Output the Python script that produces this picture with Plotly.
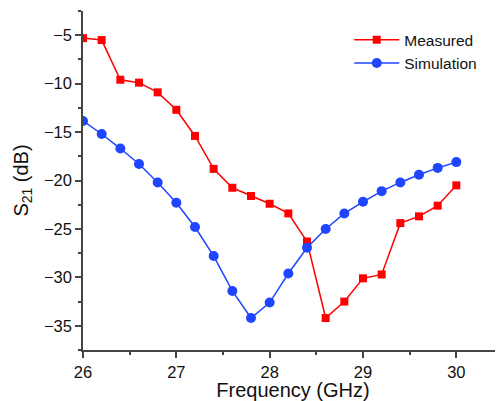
import plotly.graph_objects as go

freq = [26.0, 26.2, 26.4, 26.6, 26.8, 27.0, 27.2, 27.4, 27.6, 27.8, 28.0,
        28.2, 28.4, 28.6, 28.8, 29.0, 29.2, 29.4, 29.6, 29.8, 30.0]
measured = [-5.3, -5.5, -9.6, -9.9, -10.9, -12.7, -15.4, -18.8, -20.75, -21.6, -22.4,
            -23.4, -26.3, -34.2, -32.5, -30.1, -29.7, -24.4, -23.7, -22.6, -20.5]
simulation = [-13.85, -15.2, -16.7, -18.3, -20.2, -22.3, -24.8, -27.8, -31.4, -34.2, -32.6,
              -29.6, -26.95, -25.0, -23.4, -22.2, -21.1, -20.2, -19.4, -18.7, -18.1]
x_ticks = [26, 27, 28, 29, 30]
y_ticks = [-35, -30, -25, -20, -15, -10, -5]

fig = go.Figure()
fig.add_trace(go.Scatter(x=freq, y=measured, name="Measured", mode="lines+markers",
                         line=dict(color="#FF0000", width=1.5),
                         marker=dict(symbol="square", size=8, color="#FF0000")))
fig.add_trace(go.Scatter(x=freq, y=simulation, name="Simulation", mode="lines+markers",
                         line=dict(color="#1F45FF", width=1.5),
                         marker=dict(symbol="circle", size=10, color="#1F45FF")))

axis_font = dict(family="Liberation Sans, Arial, sans-serif", size=16.5, color="#111")
fig.update_layout(
    width=495, height=393,
    margin=dict(l=75, r=0, t=3, b=51),
    paper_bgcolor="white", plot_bgcolor="white",
    font=axis_font,
    showlegend=True,
    legend=dict(x=0.634, y=0.964, xanchor="left", yanchor="top", itemwidth=45,
                bgcolor="rgba(0,0,0,0)", font=dict(size=15.5), tracegroupgap=0),
    xaxis=dict(range=[26, 30.5], tickvals=x_ticks, showgrid=False, zeroline=False,
               showline=True, linecolor="#444", linewidth=1.5,
               ticks="outside", ticklen=6, tickwidth=1.5, tickcolor="#444",
               minor=dict(dtick=0.5, tick0=26, ticks="outside", ticklen=3,
                          tickwidth=1.5, tickcolor="#444", showgrid=False),
               title=dict(text="Frequency (GHz)", standoff=2), tickfont=axis_font),
    yaxis=dict(range=[-37.5, -2.5], tickvals=y_ticks, showgrid=False, zeroline=False,
               showline=True, linecolor="#444", linewidth=1.5,
               ticks="outside", ticklen=6, tickwidth=1.5, tickcolor="#444",
               minor=dict(dtick=2.5, tick0=0, ticks="outside", ticklen=3,
                          tickwidth=1.5, tickcolor="#444", showgrid=False),
               title=dict(text="S<sub>21</sub> (dB)", standoff=10), tickfont=axis_font),
)
fig.write_html("out.html")
